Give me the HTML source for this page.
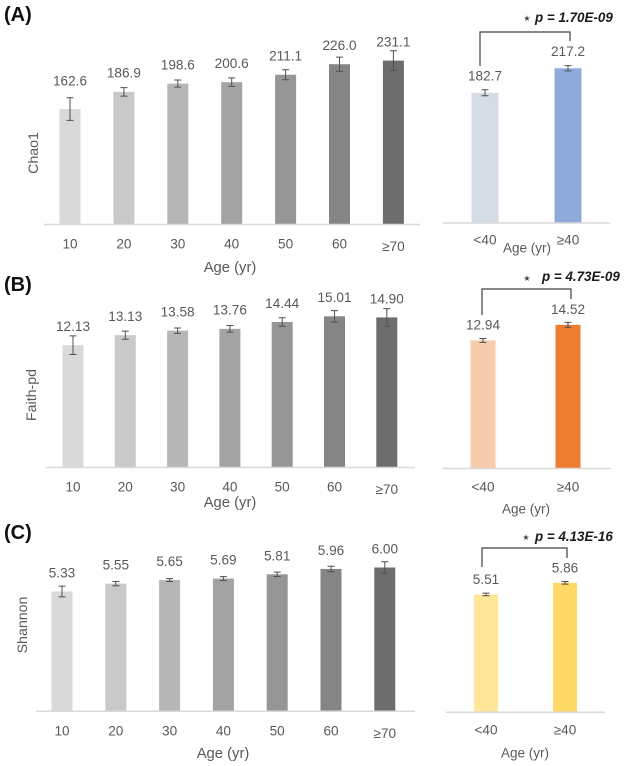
<!DOCTYPE html>
<html lang="en">
<head>
<meta charset="utf-8">
<title>Alpha diversity by age</title>
<style>
  html, body { margin: 0; padding: 0; background: #fff; }
  #figure { display: block; width: 624px; height: 766px; filter: blur(0.35px); font-family: "Liberation Sans", sans-serif; }
  text { fill: #595959; }
  .letter { font-size: 20px; font-weight: bold; fill: #111; }
  .pval { font-size: 13.4px; font-weight: bold; font-style: italic; fill: #1a1a1a; }
  .star { font-size: 8px; fill: #444; text-anchor: middle; }
  .bracket { fill: none; stroke: #404040; stroke-width: 1.2; }
</style>
</head>
<body>
<svg id="figure" xmlns="http://www.w3.org/2000/svg" width="624" height="766" viewBox="0 0 624 766">
  <text class="letter" x="4" y="21">(A)</text>
  <text class="letter" x="4" y="291">(B)</text>
  <text class="letter" x="4" y="539">(C)</text>

  <path class="bracket" d="M480 66V32H570V41"/>
  <text class="star" x="527" y="21">★</text>
  <text class="pval" x="535" y="22">p = 1.70E-09</text>

  <path class="bracket" d="M482 315V289H571V299"/>
  <text class="star" x="527" y="281">★</text>
  <text class="pval" x="542" y="281">p = 4.73E-09</text>

  <path class="bracket" d="M482 567V548H567V558"/>
  <text class="star" x="526" y="540">★</text>
  <text class="pval" x="535" y="541">p = 4.13E-16</text>
</svg>
<script>
const ageCategories = ['10', '20', '30', '40', '50', '60', '≥70'];
const groupCategories = ['<40', '≥40'];

const chao1Values = [162.6, 186.9, 198.6, 200.6, 211.1, 226.0, 231.1];
const chao1Errors = [16, 6, 5, 6, 7, 10, 14];
const chao1GroupValues = [182.7, 217.2];
const chao1GroupErrors = [4.2, 3.7];

const faithValues = [12.13, 13.13, 13.58, 13.76, 14.44, 15.01, 14.90];
const faithErrors = [0.93, 0.40, 0.27, 0.33, 0.42, 0.57, 0.87];
const faithGroupValues = [12.94, 14.52];
const faithGroupErrors = [0.20, 0.25];

const shannonValues = [5.33, 5.55, 5.65, 5.69, 5.81, 5.96, 6.00];
const shannonErrors = [0.15, 0.06, 0.04, 0.055, 0.06, 0.075, 0.16];
const shannonGroupValues = [5.51, 5.86];
const shannonGroupErrors = [0.04, 0.04];

const grayRamp = ['#d9d9d9', '#c9c9c9', '#b6b6b6', '#a3a3a3', '#969696', '#858585', '#6d6d6d'];
const blueRamp = ['#d6dce5', '#8eaadb'];
const orangeRamp = ['#f8cbad', '#ed7d31'];
const yellowRamp = ['#ffe699', '#ffd966'];

const SVG_NS = 'http://www.w3.org/2000/svg';
const svg = document.getElementById('figure');

function make(tag, attrs, text) {
  const el = document.createElementNS(SVG_NS, tag);
  for (const key in attrs) el.setAttribute(key, attrs[key]);
  if (text !== undefined) el.textContent = text;
  svg.appendChild(el);
  return el;
}

function drawPanel(p) {
  const yOf = v => p.baseline - (v - p.min) * p.scale;
  const xOf = i => p.x0 + i * p.step;
  const labelSize = 13.6;

  p.values.forEach((value, i) => {
    const cx = xOf(i);
    const top = yOf(value);

    const bar = make('rect', { x: cx - p.barW / 2, y: top, width: p.barW, height: p.baseline - top, fill: p.colors[i] });
    
    

    const hi = yOf(value + p.errors[i]);
    const lo = yOf(value - p.errors[i]);
    const err = make('path', {
      d: 'M' + cx + ' ' + hi + 'V' + lo + 'M' + (cx - 3.5) + ' ' + hi + 'H' + (cx + 3.5) + 'M' + (cx - 3.5) + ' ' + lo + 'H' + (cx + 3.5),
      fill: 'none', stroke: '#4f4f4f', 'stroke-width': 1
    });
    
    

    const lift = i === 0 ? p.firstLift : 0;
    const label = make('text', { x: cx, y: top - p.labelGap - lift, 'text-anchor': 'middle', 'dominant-baseline': 'central', 'font-size': labelSize }, value.toFixed(p.decimals));
    
    

    const raised = p.categories[i] === '≥70' ? 2.5 : 0;
    const tick = make('text', { x: cx, y: p.tickY + raised, 'text-anchor': 'middle', 'dominant-baseline': 'central', 'font-size': labelSize }, p.categories[i]);
    
    
  });

  const axis = make('line', { x1: p.axisX1, x2: p.axisX2, y1: p.baseline + 0.5, y2: p.baseline + 0.5, stroke: '#d9d9d9', 'stroke-width': 1.5 });
  
  

  const xTitle = make('text', { x: p.titleX, y: p.titleY, 'text-anchor': 'middle', 'dominant-baseline': 'central', 'font-size': p.titleSize }, 'Age (yr)');
  
  

  if (p.yTitle) {
    const yTitle = make('text', { x: 0, y: 0, transform: 'translate(' + p.yTitleX + ' ' + p.yTitleY + ') rotate(-90)', 'text-anchor': 'middle', 'dominant-baseline': 'central', 'font-size': 14.2 }, p.yTitle);
    
    
  }
}

drawPanel({ values: chao1Values, errors: chao1Errors, categories: ageCategories, colors: grayRamp, decimals: 1,
  min: 0, scale: 0.707, baseline: 224, x0: 70, step: 53.9, barW: 21, labelGap: 18.8, firstLift: 9,
  tickY: 244, axisX1: 44, axisX2: 420, titleX: 230, titleY: 268, titleSize: 14.8,
  yTitle: 'Chao1', yTitleX: 34, yTitleY: 153 });
drawPanel({ values: chao1GroupValues, errors: chao1GroupErrors, categories: groupCategories, colors: blueRamp, decimals: 1,
  min: 0, scale: 0.71, baseline: 222.5, x0: 485, step: 83, barW: 27, labelGap: 16.7, firstLift: 0,
  tickY: 240, axisX1: 443, axisX2: 610, titleX: 527, titleY: 248, titleSize: 13.5 });

drawPanel({ values: faithValues, errors: faithErrors, categories: ageCategories, colors: grayRamp, decimals: 2,
  min: 0, scale: 10.04, baseline: 467, x0: 73, step: 52.3, barW: 21, labelGap: 18.6, firstLift: 0,
  tickY: 487, axisX1: 46, axisX2: 415, titleX: 230, titleY: 503, titleSize: 14.8,
  yTitle: 'Faith-pd', yTitleX: 32, yTitleY: 395 });
drawPanel({ values: faithGroupValues, errors: faithGroupErrors, categories: groupCategories, colors: orangeRamp, decimals: 2,
  min: 0, scale: 9.86, baseline: 468, x0: 483, step: 85, barW: 25, labelGap: 15.5, firstLift: 0,
  tickY: 487, axisX1: 442, axisX2: 611, titleX: 526, titleY: 509, titleSize: 13.5 });

drawPanel({ values: shannonValues, errors: shannonErrors, categories: ageCategories, colors: grayRamp, decimals: 2,
  min: 2, scale: 35.8, baseline: 710.7, x0: 62, step: 53.8, barW: 21, labelGap: 18.5, firstLift: 0,
  tickY: 731, axisX1: 36, axisX2: 415, titleX: 223, titleY: 754, titleSize: 14.8,
  yTitle: 'Shannon', yTitleX: 23, yTitleY: 625 });
drawPanel({ values: shannonGroupValues, errors: shannonGroupErrors, categories: groupCategories, colors: yellowRamp, decimals: 2,
  min: 2, scale: 33.4, baseline: 711.7, x0: 486, step: 79, barW: 24, labelGap: 15, firstLift: 0,
  tickY: 730, axisX1: 446, axisX2: 605, titleX: 525, titleY: 753, titleSize: 13.5 });
</script>
</body>
</html>
